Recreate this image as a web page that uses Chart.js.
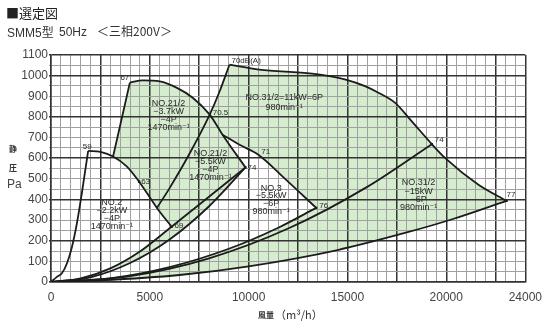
<!DOCTYPE html>
<html lang="ja">
<head>
<meta charset="utf-8">
<title>SMM5型 選定図</title>
<script src="https://cdn.jsdelivr.net/npm/chart.js@4.4.1/dist/chart.umd.min.js"></script>
<style>
  html, body { margin: 0; padding: 0; background: #fff; }
  #wrap { position: relative; width: 550px; height: 331px; overflow: hidden;
          font-family: "Liberation Sans", Arial, "Noto Sans CJK JP", sans-serif; color: #333; }
  #wrap canvas { position: absolute; left: 0; top: 0; }
  .txt { position: absolute; white-space: pre; line-height: 1; }
  .cjk { font-family: "Noto Sans CJK JP", sans-serif; }
</style>
</head>
<body>
<div id="wrap">
  <canvas id="chart" width="550" height="331"></canvas>
  <div class="txt cjk" style="left:6px;top:6px;font-size:13px;color:#222;">■選定図</div>
  <div class="txt" style="left:7px;top:26px;font-size:12px;color:#333;">SMM5<span class="cjk">型</span></div>
  <div class="txt" style="left:59px;top:26px;font-size:12px;color:#333;">50Hz</div>
  <div class="txt cjk" style="left:97px;top:25px;font-size:12px;color:#333;">＜三相200V＞</div>
  <div class="txt cjk" style="left:9px;top:145px;font-size:8px;font-weight:bold;color:#333;">静</div>
  <div class="txt cjk" style="left:9px;top:164px;font-size:8px;font-weight:bold;color:#333;">圧</div>
  <div class="txt" style="left:7px;top:178px;font-size:12px;color:#444;">Pa</div>
  <div class="txt cjk" style="left:258px;top:311px;font-size:8px;font-weight:bold;color:#333;">風量</div>
  <div class="txt cjk" style="left:275px;top:309px;font-size:11px;color:#333;">（m³/h）</div>
</div>
<script>
// air volume Q [m3/h], static pressure P [Pa]
const xTickLabels = [0, 5000, 10000, 15000, 20000, 24000];
const yTickLabels = [0, 100, 200, 300, 400, 500, 600, 700, 800, 900, 1000, 1100];

// NO.2  2.2kW 4P
const no2Surge = [[0,0],[300,25],[550,42],[810,91],[1060,170],[1310,284],[1560,430],[1880,635]];
const no2Curve = [[1880,635],[2500,630],[3140,608],[3830,560],[4460,486],[5360,359],[6100,268]];
// NO.2 1/2  4P
const no25Surge = [[3140,608],[3550,780],[3990,966]];
const no25Curve = [[3990,966],[4640,977],[5500,972],[6350,942],[7170,893],[8030,811],[8680,714],[9840,555]];
// NO.3 1/2 6P left limit, runs up through 70.5 to 70dB(A)
const no35Surge = [[5360,359],[6000,455],[7000,620],[8030,811],[8550,928],[9030,1053]];
// NO.3  5.5kW 6P
const no3Curve = [[8680,714],[9540,665],[10490,617],[11900,495],[13420,359]];
// NO.3 1/2  6P
const no35Curve = [[9030,1053],[10540,1029],[13210,1010],[14910,981],[15920,948],[16590,916],
                   [17400,869],[18190,786],[19270,668],[19950,600],[21630,471],[23050,393]];

// resistance lines from the origin
const to69  = [[0,0],[1500,17],[3000,66],[4500,148],[6100,268]];
const to74  = [[0,0],[2000,23],[4000,92],[6000,206],[8000,367],[9840,555]];
const edge69to74 = [[6100,268],[9840,555]];
const to76  = [[0,0],[3000,18],[6000,72],[9000,161],[11500,263],[13420,359]];
const to74b = [[0,0],[4000,29],[8000,115],[12000,259],[16000,461],[19270,668]];
const to77  = [[0,0],[2500,8],[6500,34],[10000,76],[14500,155],[18000,240],[20300,304],[23050,393]];

const rev = a => a.slice().reverse();

// shaded ranges
const area37 = [...no25Surge, ...no25Curve.slice(1, 6), ...rev(no35Surge.slice(0, 4)).slice(1),
                ...rev(no2Curve.slice(2, 6)).slice(1)];
const area55 = [...to74, ...rev(no25Curve.slice(5)).slice(1), ...rev(no35Surge.slice(0, 4)).slice(1),
                ...no2Curve.slice(6), ...rev(to69).slice(1)];
const area11 = [...no35Curve.slice(0, 9), ...rev(to74b).slice(1), ...to76.slice(1),
                ...rev(no3Curve).slice(1), no25Curve[5], ...no35Surge.slice(4)];
const area15 = [...no35Curve.slice(8), ...rev(to77).slice(1), ...to74b.slice(1)];

const marks = [no2Curve[4], no2Curve[6], no25Curve[7], no3Curve[4], no35Curve[8], no35Curve[11]];

const regionNotes = [
  { lines: ['NO.2', '−2.2kW', '−4P', '1470min⁻¹'], at: [3080, 383], lh: 7.7 },
  { lines: ['NO.21/2', '−3.7kW', '−4P', '1470min⁻¹'], at: [5950, 867], lh: 8 },
  { lines: ['NO.21/2', '−5.5kW', '−4P', '1470min⁻¹'], at: [8070, 625], lh: 8.3 },
  { lines: ['NO.3', '−5.5kW', '−6P', '980min⁻¹'], at: [11140, 455], lh: 7.7 },
  { lines: ['NO.31/2=11kW=6P', '980min⁻¹'], at: [11800, 892], lh: 10 },
  { lines: ['NO.31/2', '−15kW', '−6P', '980min⁻¹'], at: [18600, 480], lh: 8.3 }
];
const pointNotes = [
  { text: '59', at: no2Curve[0], dx: -1, dy: -4, align: 'center' },
  { text: '67', at: no25Curve[0], dx: -5, dy: -5, align: 'center' },
  { text: '70.5', at: no25Curve[5], dx: 3, dy: -2, align: 'left' },
  { text: '70dB(A)', at: no35Curve[0], dx: 2, dy: -4, align: 'left' },
  { text: '63', at: no2Curve[4], dx: 2, dy: 0, align: 'left' },
  { text: '69', at: no2Curve[6], dx: 3, dy: -1, align: 'left' },
  { text: '71', at: no3Curve[2], dx: 3, dy: -3, align: 'left' },
  { text: '74', at: no25Curve[7], dx: 2, dy: 0, align: 'left' },
  { text: '76', at: no3Curve[4], dx: 3, dy: -2, align: 'left' },
  { text: '74', at: no35Curve[8], dx: 3, dy: -4, align: 'left' },
  { text: '77', at: no35Curve[11], dx: 0, dy: -6, align: 'left' }
];

const pts = a => a.map(p => ({ x: p[0], y: p[1] }));
const LINE = '#1c1c1c';
const GREEN = '#d6ecce';

function curve(a) {
  return { data: pts(a), borderColor: LINE, borderWidth: 1.8, pointRadius: 0, fill: false,
           cubicInterpolationMode: 'monotone' };
}
function area(a) {
  return { data: pts(a), borderWidth: 0, borderColor: 'rgba(0,0,0,0)', backgroundColor: GREEN,
           pointRadius: 0, fill: 'shape', tension: 0 };
}

const gridQ = [];
for (let v = 0; v <= 24000; v += 500) gridQ.push(v);
const gridP = [];
for (let v = 0; v <= 1100; v += 50) gridP.push(v);

const isMajorQ = v => v % 2500 === 0 || v === 24000;
const isMajorP = v => v % 200 === 0 || v === 1100;

const notes = {
  id: 'notes',
  afterDatasetsDraw(chart) {
    const { ctx, scales: { x, y } } = chart;
    ctx.save();
    ctx.fillStyle = '#2a2a2a';
    ctx.textBaseline = 'middle';
    ctx.textAlign = 'center';
    ctx.font = '9px "Liberation Sans", "DejaVu Sans", sans-serif';
    for (const n of regionNotes) {
      const px = x.getPixelForValue(n.at[0]);
      const py = y.getPixelForValue(n.at[1]);
      n.lines.forEach((t, i) => ctx.fillText(t, px, py + i * n.lh));
    }
    ctx.font = '8px "Liberation Sans", "DejaVu Sans", sans-serif';
    for (const n of pointNotes) {
      ctx.textAlign = n.align;
      ctx.fillText(n.text, x.getPixelForValue(n.at[0]) + n.dx, y.getPixelForValue(n.at[1]) + n.dy);
    }
    ctx.restore();
  }
};

Chart.defaults.font.family = '"Liberation Sans", Arial, sans-serif';

new Chart(document.getElementById('chart').getContext('2d'), {
  type: 'line',
  data: {
    datasets: [
      area(area37), area(area55), area(area11), area(area15),
      curve(no2Surge), curve(no2Curve), curve(no25Surge), curve(no25Curve),
      curve(no35Surge), curve(no3Curve), curve(no35Curve),
      curve(to69), curve(to74), curve(edge69to74), curve(to76), curve(to74b), curve(to77),
      { data: pts(marks), showLine: false, pointStyle: 'rect', pointRadius: 1.7,
        pointBackgroundColor: LINE, pointBorderWidth: 0 }
    ]
  },
  options: {
    responsive: false,
    animation: false,
    events: [],
    layout: { padding: { left: 0, top: 55, right: 23, bottom: 0 } },
    plugins: {
      legend: { display: false },
      tooltip: { enabled: false },
      filler: { drawTime: 'beforeDraw' }
    },
    scales: {
      x: {
        type: 'linear', min: 0, max: 24000,
        afterBuildTicks: s => { s.ticks = gridQ.map(v => ({ value: v })); },
        afterFit: s => { s.height = 49; },
        ticks: {
          autoSkip: false, maxRotation: 0, minRotation: 0, padding: 8, color: '#444',
          font: { size: 12 },
          callback: v => xTickLabels.includes(v) ? String(v) : ''
        },
        grid: {
          drawTicks: false,
          color: c => isMajorQ(c.tick.value) ? '#333' : '#a0a0a0',
          lineWidth: c => isMajorQ(c.tick.value) ? 1.5 : 1
        },
        border: { color: '#333', width: 1.5 }
      },
      y: {
        type: 'linear', min: 0, max: 1100,
        afterBuildTicks: s => { s.ticks = gridP.map(v => ({ value: v })); },
        afterFit: s => { s.width = 51; },
        ticks: {
          autoSkip: false, padding: 1, color: '#444', font: { size: 12 },
          callback: v => yTickLabels.includes(v) ? String(v) : ''
        },
        grid: {
          tickLength: 2,
          color: c => isMajorP(c.tick.value) ? '#333' : '#a0a0a0',
          lineWidth: c => isMajorP(c.tick.value) ? 1.5 : 1
        },
        border: { color: '#333', width: 1.5 }
      }
    }
  },
  plugins: [notes]
});
</script>
</body>
</html>
